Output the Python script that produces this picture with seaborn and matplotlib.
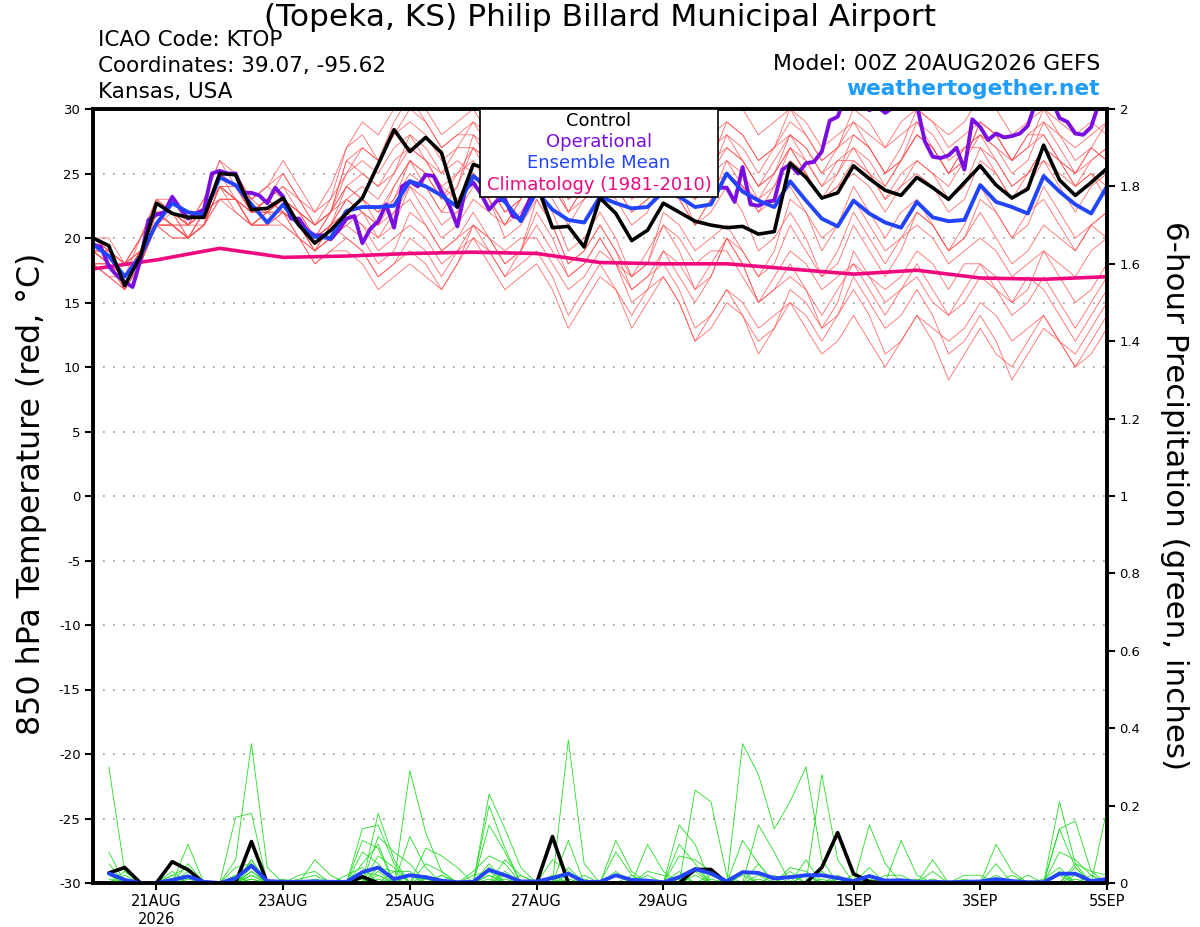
import numpy as np
import pandas as pd
import matplotlib
matplotlib.use('Agg')
import matplotlib.pyplot as plt
import matplotlib.dates as mdates
from matplotlib.patches import Rectangle
import seaborn as sns
from datetime import datetime

# 6시간 간격 시간축 (20AUG 00Z ~ 5SEP 00Z)
times6 = pd.date_range('2026-08-20 00:00', '2026-09-05 00:00', freq='6h')
times3 = pd.date_range('2026-08-20 00:00', '2026-09-05 00:00', freq='3h')
days = pd.date_range('2026-08-20', '2026-09-05', freq='D')
ptimes = times6[1:]

# 850 hPa 기온 (control, ensemble mean)
control_t = [20.0, 19.4, 16.3, 18.6, 22.7, 21.9, 21.6, 21.6, 25.0, 24.9, 22.2, 22.3, 23.1,
             21.0, 19.6, 20.6, 21.9, 23.1, 25.7, 28.4, 26.7, 27.8, 26.6, 22.4, 25.7, 25.3,
             24.0, 24.6, 24.2, 20.8, 20.9, 19.3, 23.1, 21.9, 19.8, 20.6, 22.7, 22.0, 21.3,
             21.0, 20.8, 20.9, 20.3, 20.5, 25.8, 24.7, 23.1, 23.5, 25.6, 24.6, 23.7, 23.3,
             24.7, 23.9, 23.0, 24.3, 25.6, 24.1, 23.1, 23.8, 27.2, 24.5, 23.3, 24.3, 25.4]
mean_t = [19.5, 18.6, 17.0, 18.6, 21.1, 22.7, 22.0, 21.8, 24.7, 24.1, 22.6, 21.2, 22.6,
          21.0, 20.1, 20.0, 22.1, 22.4, 22.4, 22.5, 24.4, 24.0, 23.3, 22.4, 24.8, 23.8,
          22.8, 21.3, 23.6, 22.2, 21.4, 21.2, 23.2, 22.7, 22.3, 22.4, 23.6, 23.2, 22.4,
          22.6, 25.0, 23.6, 22.9, 22.4, 24.4, 22.9, 21.5, 20.9, 22.9, 21.9, 21.2, 20.8,
          22.8, 21.6, 21.3, 21.4, 24.1, 22.8, 22.4, 21.9, 24.8, 23.6, 22.6, 21.9, 24.0]

# operational (3시간 간격)
oper_t = [19.5, 19.3, 17.8, 17.1, 16.6, 16.2, 18.3, 21.4, 21.8, 22.0, 23.2, 22.3, 21.5,
          21.9, 22.2, 25.0, 25.2, 25.0, 25.0, 23.5, 23.5, 23.3, 22.7, 23.9, 23.2, 21.5,
          21.5, 20.6, 20.2, 20.2, 19.9, 20.6, 21.5, 21.7, 19.6, 20.7, 21.3, 22.6, 20.8,
          24.0, 24.4, 24.0, 24.9, 24.8, 23.6, 22.5, 20.9, 23.8, 24.3, 23.4, 22.2, 22.9,
          23.0, 21.7, 21.5, 22.8, 24.5, 25.0, 24.2, 24.8, 25.5, 24.6, 24.0, 24.9, 25.6,
          25.0, 24.4, 25.2, 26.5, 28.0, 30.3, 30.5, 28.5, 26.8, 25.5, 24.8, 24.3, 24.6,
          24.0, 23.9, 23.9, 22.8, 25.5, 22.6, 22.5, 22.8, 22.9, 25.3, 25.7, 25.0, 25.8,
          25.9, 26.7, 29.1, 29.4, 31.0, 31.5, 31.0, 29.9, 30.2, 29.7, 30.1, 31.0, 31.0,
          30.3, 27.5, 26.3, 26.2, 26.4, 27.0, 25.3, 29.2, 28.6, 27.6, 28.1, 27.8, 27.9,
          28.1, 28.7, 30.5, 31.5, 30.8, 29.3, 29.0, 28.1, 28.0, 28.6, 30.5, 31.0]

# 기후값 (1981-2010, 일별 00Z)
clim_t = [17.6, 18.3, 19.2, 18.5, 18.6, 18.8, 18.9, 18.8, 18.1, 18.0, 18.0, 17.6,
          17.2, 17.5, 16.9, 16.8, 17.0]

# 앙상블 멤버 기온
members_t = [
    [19, 18, 17, 20, 22, 22, 21, 22, 25, 24, 22, 22, 23, 21, 20, 21, 23, 24, 23, 25, 27, 26, 24, 23,
     25, 24, 22, 23, 26, 25, 23, 24, 27, 26, 24, 25, 28, 27, 25, 26, 29, 28, 26, 27, 30, 28, 26, 27,
     29, 27, 25, 26, 28, 27, 25, 26, 29, 28, 26, 27, 30, 28, 27, 28, 29],
    [18, 18, 16, 19, 21, 21, 20, 21, 24, 23, 21, 21, 22, 20, 19, 20, 21, 20, 18, 19, 22, 21, 19, 20,
     21, 19, 17, 18, 19, 17, 14, 16, 18, 16, 13, 15, 17, 15, 12, 14, 16, 14, 11, 13, 15, 14, 12, 14,
     16, 14, 11, 12, 14, 12, 9, 11, 13, 11, 10, 12, 14, 12, 11, 13, 15],
    [20, 19, 18, 20, 23, 22, 21, 23, 26, 25, 23, 24, 25, 23, 22, 24, 27, 28, 26, 29, 31, 30, 28, 29,
     30, 28, 27, 29, 31, 29, 27, 28, 30, 29, 27, 28, 31, 29, 28, 30, 31, 30, 28, 29, 30, 29, 27, 28,
     29, 28, 27, 29, 30, 29, 28, 29, 31, 30, 28, 29, 30, 29, 28, 29, 28],
    [19, 19, 17, 19, 22, 21, 20, 21, 24, 23, 22, 23, 24, 22, 20, 21, 22, 21, 20, 22, 24, 23, 21, 22,
     25, 23, 21, 22, 24, 22, 19, 20, 22, 20, 17, 18, 21, 19, 16, 17, 20, 18, 15, 17, 19, 18, 16, 17,
     18, 16, 14, 16, 17, 15, 14, 16, 18, 17, 15, 16, 19, 17, 15, 16, 18],
    [18, 17, 17, 18, 21, 20, 20, 22, 23, 23, 22, 23, 22, 21, 19, 20, 21, 22, 21, 23, 26, 25, 23, 24,
     27, 26, 24, 25, 28, 27, 24, 25, 26, 24, 22, 23, 25, 24, 23, 25, 27, 26, 24, 25, 28, 27, 25, 26,
     27, 26, 24, 26, 28, 27, 25, 27, 27, 26, 24, 25, 26, 25, 24, 26, 27],
    [20, 19, 18, 19, 23, 22, 20, 21, 25, 24, 23, 22, 23, 22, 21, 23, 25, 27, 26, 28, 30, 29, 27, 28,
     28, 26, 24, 25, 27, 25, 22, 23, 24, 23, 21, 22, 25, 23, 21, 23, 26, 24, 22, 23, 24, 22, 19, 21,
     23, 21, 19, 20, 22, 21, 19, 21, 24, 22, 20, 22, 23, 21, 19, 21, 22],
    [19, 18, 16, 18, 22, 22, 21, 21, 24, 23, 21, 21, 22, 20, 19, 20, 22, 21, 19, 20, 21, 20, 18, 19,
     20, 18, 16, 17, 18, 16, 13, 15, 17, 16, 14, 16, 19, 17, 15, 17, 20, 19, 17, 18, 21, 19, 17, 19,
     22, 20, 18, 20, 21, 20, 18, 19, 20, 19, 17, 18, 19, 18, 17, 19, 20],
    [18, 18, 17, 19, 21, 22, 21, 23, 26, 24, 22, 23, 22, 21, 20, 22, 24, 23, 22, 23, 25, 24, 22, 24,
     28, 27, 25, 26, 30, 28, 26, 27, 29, 28, 26, 28, 30, 29, 27, 28, 29, 28, 26, 27, 28, 27, 25, 27,
     30, 29, 27, 28, 29, 28, 26, 27, 28, 27, 26, 28, 29, 28, 26, 27, 26],
    [19, 18, 17, 18, 21, 21, 20, 21, 23, 22, 21, 21, 21, 20, 18, 19, 20, 19, 17, 18, 19, 18, 16, 18,
     20, 19, 17, 19, 21, 19, 17, 18, 20, 18, 16, 17, 18, 16, 13, 14, 16, 15, 13, 14, 15, 13, 11, 12,
     14, 12, 10, 12, 14, 13, 12, 13, 15, 14, 12, 13, 14, 12, 10, 11, 13],
    [20, 19, 18, 20, 22, 21, 21, 22, 25, 24, 23, 24, 23, 22, 21, 22, 26, 25, 24, 25, 28, 26, 24, 25,
     26, 24, 22, 23, 25, 23, 21, 23, 26, 25, 23, 24, 27, 26, 24, 25, 26, 25, 23, 24, 27, 25, 23, 24,
     25, 24, 22, 24, 26, 25, 23, 24, 27, 25, 23, 24, 26, 24, 22, 24, 25],
    [18, 17, 16, 18, 22, 21, 20, 21, 24, 24, 22, 23, 24, 23, 21, 22, 23, 22, 20, 21, 24, 22, 20, 21,
     23, 22, 21, 23, 25, 24, 22, 24, 27, 26, 24, 25, 26, 24, 21, 22, 24, 22, 19, 20, 22, 20, 17, 18,
     21, 19, 17, 19, 22, 21, 19, 20, 23, 22, 20, 21, 24, 22, 20, 21, 20],
    [19, 19, 18, 20, 23, 23, 21, 22, 25, 25, 23, 24, 26, 24, 22, 23, 27, 29, 28, 30, 31, 29, 27, 28,
     29, 27, 25, 26, 28, 26, 24, 26, 29, 28, 26, 27, 28, 26, 23, 24, 25, 24, 22, 24, 26, 25, 23, 25,
     28, 27, 25, 26, 29, 27, 25, 27, 28, 27, 25, 26, 29, 27, 25, 26, 27],
    [19, 18, 17, 19, 22, 21, 20, 21, 24, 23, 22, 22, 21, 20, 18, 19, 19, 18, 16, 17, 18, 17, 16, 18,
     21, 20, 18, 19, 22, 20, 17, 18, 20, 18, 15, 16, 17, 15, 12, 13, 15, 14, 12, 13, 16, 15, 13, 14,
     17, 15, 13, 14, 16, 14, 11, 12, 14, 12, 9, 11, 13, 12, 10, 12, 14],
    [20, 20, 18, 19, 22, 22, 21, 22, 24, 24, 22, 23, 25, 23, 21, 22, 24, 25, 24, 26, 27, 26, 25, 27,
     29, 28, 26, 27, 27, 25, 23, 24, 25, 24, 22, 23, 24, 23, 21, 23, 25, 24, 23, 25, 27, 26, 24, 26,
     26, 25, 23, 24, 25, 24, 22, 23, 26, 25, 23, 25, 27, 26, 24, 25, 24],
    [18, 18, 17, 18, 21, 20, 20, 21, 23, 23, 21, 22, 22, 21, 20, 21, 24, 23, 21, 22, 23, 21, 19, 20,
     22, 20, 18, 19, 23, 21, 18, 19, 21, 19, 17, 18, 22, 21, 19, 20, 21, 19, 17, 19, 23, 22, 20, 21,
     24, 22, 20, 22, 23, 21, 19, 20, 22, 20, 18, 19, 21, 20, 19, 21, 22],
    [19, 18, 17, 19, 22, 22, 20, 21, 25, 24, 22, 22, 23, 21, 19, 21, 23, 22, 21, 24, 26, 24, 22, 22,
     24, 23, 21, 23, 27, 26, 24, 25, 28, 27, 25, 26, 29, 28, 26, 27, 28, 26, 24, 25, 27, 25, 23, 24,
     26, 25, 24, 26, 28, 27, 25, 26, 29, 28, 26, 28, 28, 26, 24, 25, 23],
    [20, 19, 17, 19, 22, 21, 20, 22, 24, 23, 21, 22, 23, 22, 21, 22, 25, 26, 25, 27, 28, 27, 25, 26,
     25, 23, 20, 21, 23, 21, 18, 19, 21, 19, 16, 17, 19, 18, 16, 18, 20, 18, 15, 16, 18, 16, 13, 15,
     19, 17, 15, 16, 18, 16, 14, 15, 17, 16, 15, 17, 16, 14, 12, 14, 16],
    [19, 19, 18, 19, 21, 21, 20, 22, 25, 23, 21, 22, 22, 21, 19, 21, 22, 23, 22, 24, 26, 25, 23, 25,
     27, 25, 23, 24, 26, 24, 22, 24, 27, 26, 25, 27, 29, 27, 25, 26, 27, 26, 24, 26, 28, 26, 24, 25,
     27, 25, 23, 25, 26, 25, 24, 26, 28, 26, 24, 25, 27, 26, 25, 27, 29],
    [18, 17, 16, 18, 21, 21, 20, 21, 24, 22, 21, 22, 23, 22, 20, 21, 20, 19, 17, 18, 20, 19, 17, 19,
     21, 20, 19, 20, 20, 18, 16, 17, 19, 18, 17, 19, 21, 20, 18, 19, 19, 17, 15, 16, 17, 16, 14, 16,
     18, 17, 16, 17, 19, 18, 16, 18, 18, 16, 14, 15, 17, 15, 13, 15, 17],
    [19, 18, 17, 19, 22, 21, 21, 22, 23, 23, 22, 23, 22, 21, 20, 22, 26, 27, 26, 28, 29, 28, 26, 27,
     27, 26, 24, 26, 29, 28, 26, 27, 28, 27, 25, 26, 27, 26, 24, 25, 28, 27, 25, 27, 29, 28, 26, 27,
     28, 27, 25, 27, 30, 29, 27, 28, 29, 28, 26, 27, 28, 26, 25, 27, 26],
]

# 6시간 강수량 (06Z 20AUG 부터)
precip_control = [0.026, 0.04, 0, 0, 0.055, 0.034, 0, 0, 0, 0.107, 0, 0, 0, 0, 0, 0,
                  0.016, 0, 0, 0, 0, 0, 0, 0, 0, 0, 0, 0, 0.12, 0, 0, 0,
                  0, 0, 0, 0, 0, 0.035, 0.035, 0, 0, 0, 0, 0, 0, 0.04, 0.13, 0.024,
                  0.003, 0, 0, 0, 0, 0, 0, 0, 0, 0, 0, 0, 0, 0, 0, 0]
precip_mean = [0.025, 0.008, 0, 0, 0.008, 0.017, 0.003, 0, 0.012, 0.045, 0.005, 0.003, 0.003,
               0.004, 0.003, 0.003, 0.028, 0.040, 0.010, 0.020, 0.015, 0.006, 0.002, 0.003,
               0.034, 0.020, 0.004, 0.004, 0.013, 0.024, 0.003, 0.003, 0.020, 0.008, 0.006,
               0.002, 0.015, 0.036, 0.025, 0.004, 0.028, 0.026, 0.012, 0.015, 0.020, 0.020,
               0.013, 0.005, 0.018, 0.006, 0.007, 0.003, 0.003, 0.002, 0.003, 0.004, 0.010,
               0.005, 0.002, 0.002, 0.024, 0.024, 0.005, 0.010]

# 앙상블 멤버 강수 (스텝 번호, 값) - 나머지는 0
precip_members = [
    [(1, 0.30), (2, 0.03), (10, 0.06), (18, 0.18), (19, 0.06), (41, 0.36), (42, 0.28), (43, 0.14),
     (44, 0.21), (45, 0.30), (46, 0.06), (61, 0.21), (62, 0.05)],
    [(1, 0.08), (6, 0.10), (9, 0.06), (10, 0.36), (11, 0.04), (20, 0.29), (21, 0.13), (22, 0.03),
     (30, 0.11), (38, 0.24), (39, 0.21), (40, 0.02), (64, 0.19)],
    [(5, 0.03), (9, 0.17), (10, 0.18), (17, 0.14), (18, 0.15), (19, 0.05), (25, 0.23), (26, 0.14),
     (27, 0.04), (37, 0.15), (38, 0.10), (46, 0.28), (47, 0.06), (49, 0.15), (50, 0.05)],
    [(2, 0.02), (6, 0.05), (10, 0.10), (17, 0.11), (18, 0.09), (21, 0.09), (22, 0.07), (23, 0.04),
     (30, 0.37), (31, 0.05), (42, 0.15), (43, 0.08), (51, 0.11), (52, 0.02)],
    [(1, 0.05), (10, 0.06), (14, 0.06), (15, 0.02), (18, 0.12), (19, 0.08), (20, 0.05), (25, 0.20),
     (26, 0.09), (33, 0.11), (34, 0.03), (45, 0.06), (53, 0.06), (61, 0.14), (62, 0.16), (63, 0.03)],
    [(5, 0.02), (6, 0.04), (13, 0.02), (14, 0.03), (17, 0.08), (18, 0.05), (20, 0.12), (21, 0.04),
     (25, 0.15), (26, 0.08), (29, 0.06), (30, 0.03), (35, 0.10), (36, 0.03), (41, 0.11), (42, 0.05),
     (57, 0.10), (58, 0.03)],
    [(9, 0.04), (10, 0.05), (17, 0.05), (18, 0.10), (24, 0.03), (25, 0.07), (26, 0.05), (33, 0.08),
     (34, 0.02), (37, 0.10), (38, 0.05), (44, 0.04), (45, 0.03), (57, 0.05), (61, 0.14), (62, 0.04)],
    [(1, 0.02), (6, 0.03), (10, 0.04), (12, 0.01), (18, 0.07), (19, 0.04), (21, 0.05), (22, 0.03),
     (26, 0.06), (27, 0.02), (31, 0.02), (37, 0.07), (38, 0.06), (39, 0.03), (42, 0.05), (44, 0.03),
     (49, 0.04), (61, 0.08), (62, 0.06), (63, 0.02)],
    [(2, 0.01), (10, 0.02), (16, 0.02), (17, 0.04), (19, 0.03), (20, 0.03), (25, 0.05), (30, 0.04),
     (35, 0.03), (36, 0.02), (38, 0.04), (45, 0.02), (47, 0.02), (55, 0.02), (56, 0.02), (62, 0.05),
     (63, 0.03), (64, 0.02)],
    [(5, 0.01), (6, 0.02), (10, 0.03), (13, 0.01), (14, 0.02), (17, 0.03), (18, 0.02), (22, 0.02),
     (25, 0.04), (29, 0.02), (33, 0.03), (37, 0.02), (41, 0.02), (50, 0.02), (51, 0.02), (53, 0.03),
     (60, 0.01), (61, 0.04)],
    [(18, 0.04), (19, 0.03), (24, 0.02), (25, 0.03), (30, 0.02), (38, 0.03), (44, 0.02), (46, 0.03),
     (58, 0.02), (62, 0.04)],
    [(1, 0.01), (10, 0.01), (17, 0.02), (21, 0.02), (26, 0.03), (34, 0.02), (39, 0.02), (41, 0.03),
     (48, 0.02), (61, 0.03)],
    [(6, 0.01), (9, 0.02), (18, 0.03), (25, 0.02), (37, 0.03), (42, 0.02), (47, 0.01), (63, 0.02)],
    [(10, 0.03), (20, 0.02), (22, 0.02), (27, 0.02), (35, 0.02), (45, 0.02), (52, 0.01), (59, 0.02)],
    [(2, 0.03), (14, 0.01), (17, 0.02), (25, 0.02), (31, 0.01), (40, 0.01), (50, 0.01), (62, 0.02)],
    [(9, 0.02), (18, 0.02), (26, 0.02), (33, 0.02), (43, 0.02), (55, 0.01), (64, 0.01)],
    [(5, 0.02), (17, 0.01), (21, 0.01), (30, 0.01), (38, 0.02), (46, 0.01), (57, 0.02)],
    [(10, 0.02), (19, 0.01), (29, 0.01), (37, 0.01), (49, 0.01), (61, 0.02)],
    [(6, 0.02), (18, 0.01), (25, 0.01), (42, 0.01), (53, 0.01)],
    [(10, 0.01), (26, 0.01), (39, 0.01), (62, 0.01)],
]

tick_dates = [datetime(2026, 8, 21), datetime(2026, 8, 23), datetime(2026, 8, 25),
              datetime(2026, 8, 27), datetime(2026, 8, 29), datetime(2026, 9, 1),
              datetime(2026, 9, 3), datetime(2026, 9, 5)]
tick_labels = ['21AUG\n2026', '23AUG', '25AUG', '27AUG', '29AUG', '1SEP', '3SEP', '5SEP']

# 긴 형식 데이터프레임
temp_long = pd.DataFrame(np.array(members_t).T, index=times6)
temp_long.index.name = 'time'
temp_long = temp_long.reset_index().melt(id_vars='time', var_name='member', value_name='temp')

pmat = np.zeros((len(precip_members), len(ptimes)))
for k, spikes in enumerate(precip_members):
    for step, val in spikes:
        pmat[k, step - 1] = val
prec_long = pd.DataFrame(pmat.T, index=ptimes)
prec_long.index.name = 'time'
prec_long = prec_long.reset_index().melt(id_vars='time', var_name='member', value_name='precip')

# 스타일
sns.set_theme(style='white')
plt.rcParams['font.family'] = ['DejaVu Sans']
plt.rcParams['axes.unicode_minus'] = False
for key in ['text.color', 'axes.labelcolor', 'xtick.color', 'ytick.color']:
    plt.rcParams[key] = 'black'

fig = plt.figure(figsize=(12, 9.27), dpi=100)
ax = fig.add_axes([93 / 1200, 44 / 927, 1014 / 1200, 774 / 927])
ax2 = ax.twinx()

# 기온
sns.lineplot(data=temp_long, x='time', y='temp', units='member', estimator=None,
             color='#ff5252', lw=0.6, alpha=0.85, ax=ax, legend=False)
sns.lineplot(x=days, y=clim_t, color='#f0087f', lw=2.6, ax=ax)
sns.lineplot(x=times3, y=oper_t, color='#7a0ee0', lw=2.8, ax=ax)
sns.lineplot(x=times6, y=mean_t, color='#2244ff', lw=2.8, ax=ax)
sns.lineplot(x=times6, y=control_t, color='black', lw=2.6, ax=ax)

# 강수
sns.lineplot(data=prec_long, x='time', y='precip', units='member', estimator=None,
             color='#22dd22', lw=0.6, ax=ax2, legend=False)
sns.lineplot(x=ptimes, y=precip_control, color='black', lw=2.6, ax=ax2)
sns.lineplot(x=ptimes, y=precip_mean, color='#2244ff', lw=2.8, ax=ax2)

x0 = mdates.date2num(datetime(2026, 8, 20))
x1 = mdates.date2num(datetime(2026, 9, 5))
ax.set_xlim(x0, x1)
ax.set_ylim(-30, 30)
ax2.set_ylim(0, 2)
ax.set_yticks(range(-30, 31, 5))
ax2.set_yticks(np.arange(0, 2.01, 0.2))
ax2.set_yticklabels(['%g' % round(v, 1) for v in np.arange(0, 2.01, 0.2)])
ax.set_xticks(mdates.date2num(tick_dates))
ax.set_xticklabels(tick_labels)
for a in (ax, ax2):
    a.set_xlabel('')
    a.set_ylabel('')
    for sp in a.spines.values():
        sp.set_linewidth(2.6)
        sp.set_color('black')

ax.yaxis.grid(True, linestyle=(0, (1, 5)), color='#999999', lw=1.2)
ax.tick_params(axis='y', left=True, direction='out', length=6, width=1.5, labelsize=9.5, pad=3)
ax.tick_params(axis='x', bottom=True, direction='out', length=5, width=1.5, labelsize=10.5, pad=3)
ax2.tick_params(axis='y', right=True, direction='out', length=6, width=1.5, labelsize=9.5, pad=3)

# 범례 박스
ax2.add_patch(Rectangle((0.3817, 0.8863), 0.2347, 0.1137, transform=ax2.transAxes,
                        facecolor='white', edgecolor='black', lw=1.2, zorder=10, clip_on=False))
legend_items = [('Control', 'black', 0.9845), ('Operational', '#7a0ee0', 0.9574),
                ('Ensemble Mean', '#2244ff', 0.9302), ('Climatology (1981-2010)', '#f0087f', 0.9018)]
for txt, col, yy in legend_items:
    ax2.text(0.499, yy, txt, color=col, fontsize=13, ha='center', va='center',
             transform=ax2.transAxes, zorder=11)

# 텍스트
fig.text(600 / 1200, 1 - 18 / 927, '(Topeka, KS) Philip Billard Municipal Airport',
         fontsize=22.5, ha='center', va='center')
fig.text(98 / 1200, 1 - 40 / 927, 'ICAO Code: KTOP', fontsize=15.5, ha='left', va='center')
fig.text(98 / 1200, 1 - 66 / 927, 'Coordinates: 39.07, -95.62', fontsize=15.5, ha='left', va='center')
fig.text(98 / 1200, 1 - 92 / 927, 'Kansas, USA', fontsize=15.5, ha='left', va='center')
fig.text(1100 / 1200, 1 - 64 / 927, 'Model: 00Z 20AUG2026 GEFS', fontsize=15.8, ha='right', va='center')
fig.text(1100 / 1200, 1 - 89 / 927, 'weathertogether.net', fontsize=15.7, fontweight='bold',
         color='#1e9cff', ha='right', va='center')
fig.text(32 / 1200, 1 - 494 / 927, '850 hPa Temperature (red, \u00b0C)', fontsize=22.8,
         rotation=90, ha='center', va='center')
fig.text(1174 / 1200, 1 - 496 / 927, '6-hour Precipitation (green, inches)', fontsize=22.3,
         rotation=270, ha='center', va='center')

fig.savefig('out.png', dpi=100)
